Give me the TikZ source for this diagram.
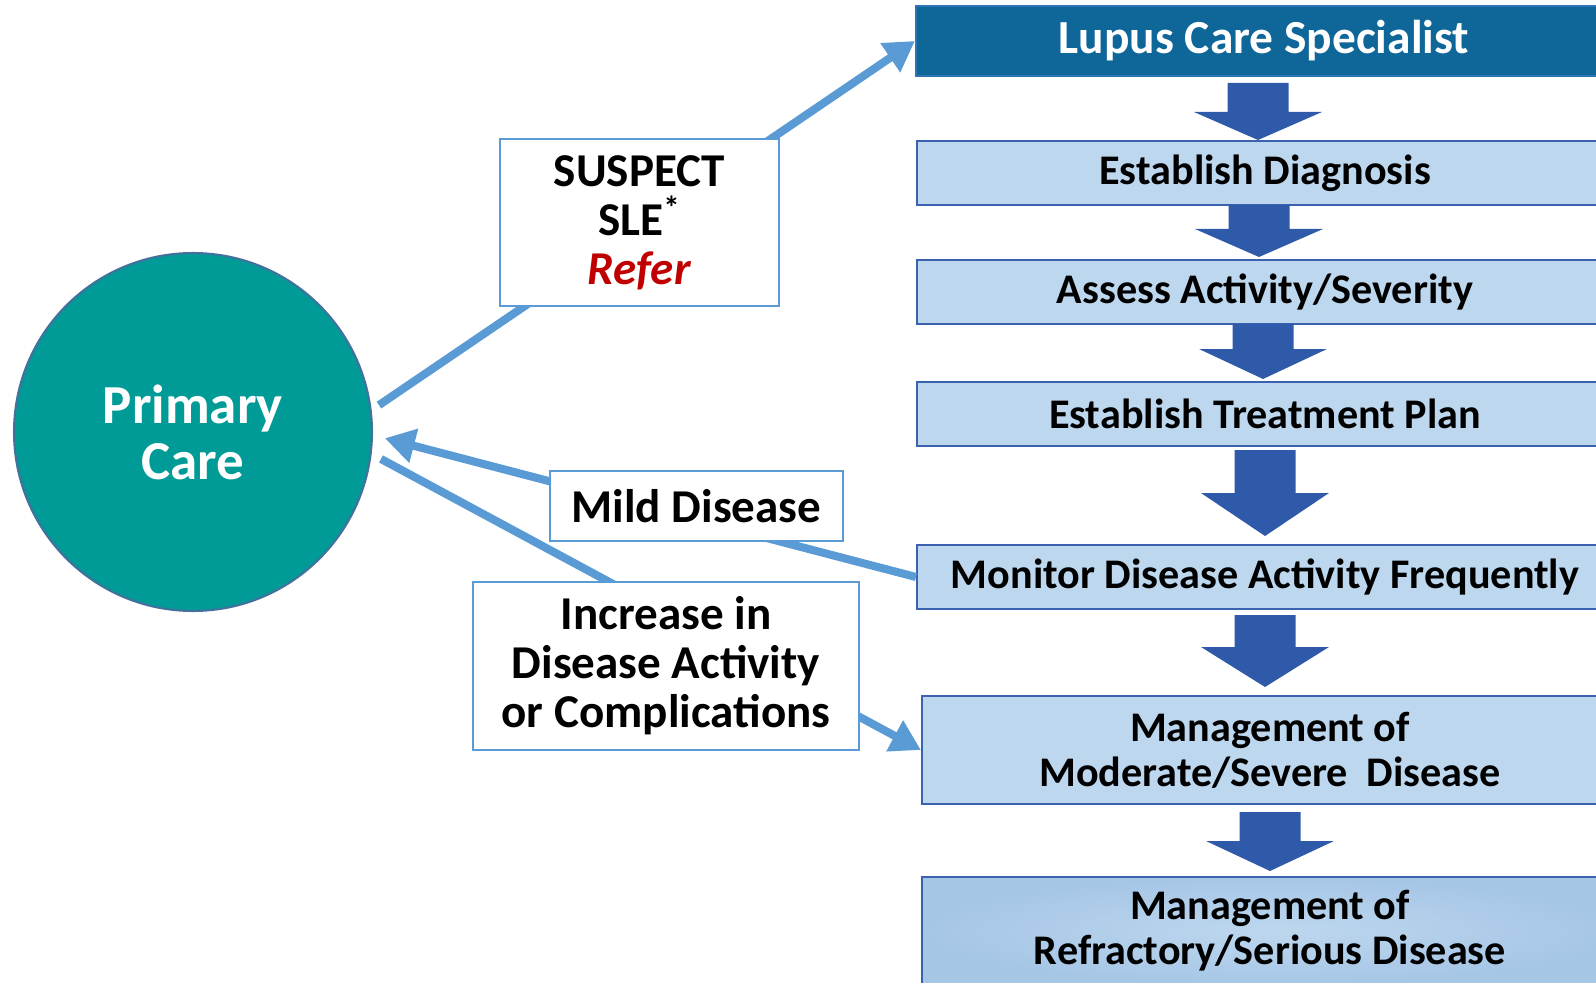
\documentclass[tikz,border=0pt]{standalone}
\usepackage{fontspec}
\setmainfont{Carlito}
\usepackage{xcolor}
\usetikzlibrary{positioning,arrows.meta,calc}

\definecolor{lupusblue}{HTML}{0E6699}
\definecolor{lupusline}{HTML}{2E75B6}
\definecolor{stepfill}{HTML}{BDD7EE}
\definecolor{stepedge}{HTML}{A6C6E6}
\definecolor{stepline}{HTML}{3A62AE}
\definecolor{downblue}{HTML}{2F59A9}
\definecolor{linkblue}{HTML}{5B9BD5}
\definecolor{careteal}{HTML}{009A97}
\definecolor{careline}{HTML}{41719C}
\definecolor{referred}{HTML}{C00000}

\tikzset{
  stepbox/.style={draw=stepline, line width=1.3pt, fill=stepfill, minimum width=13.92cm,
    minimum height=1.28cm, align=center, font=\fontsize{24}{25.5}\selectfont\bfseries},
  lupusbox/.style={stepbox, draw=lupusline, fill=lupusblue, text=white, minimum height=1.4cm,
    font=\fontsize{27}{28}\selectfont\bfseries},
  labelbox/.style={draw=linkblue, line width=1.1pt, fill=white, align=center,
    font=\fontsize{26.8}{27.9}\selectfont\bfseries},
  link/.style={draw=linkblue, line width=4.6pt, -{Triangle[length=17pt,width=19pt]}},
  pics/blockdown/.style args={#1/#2}{code={
    \fill[downblue] (-30.5,0) -- (30.5,0) -- (30.5,#1) -- (64,#1) -- (0,#2)
      -- (-64,#1) -- (-30.5,#1) -- cycle;}}
}

\begin{document}
\begin{tikzpicture}[x=0.02cm, y=-0.02cm]
    \clip (0,0) rectangle (1596,983);

    % Primary care
    \node[circle, draw=careline, line width=1.2pt, fill=careteal, minimum size=7.16cm,
      text=white, align=center, font=\fontsize{31.3}{31.9}\selectfont\bfseries]
      (pcare) at (193,432) {Primary\\Care};

    % Specialist column
    \node[lupusbox] (lupus) at (1264,41) {Lupus Care Specialist};
    \node[stepbox] (diag) at (1265,173) {Establish Diagnosis};
    \node[stepbox] (assess) at (1265,292) {Assess Activity/Severity};
    \node[stepbox] (plan) at (1265,414) {Establish Treatment Plan};
    \node[stepbox] (monitor) at (1265,577) {Monitor Disease Activity Frequently};
    \node[stepbox, minimum height=2.16cm] (moderate) at (1270,750)
      {Management of\\Moderate/Severe~~Disease};
    \node[stepbox, minimum height=2.16cm, shading=radial, inner color=stepfill,
      outer color=stepedge] (refract) at (1270,931)
      {Management of\\Refractory/Serious Disease};

    % Block arrows between the steps
    \pic at (1258,83) {blockdown=29/57};
    \pic at (1259,205) {blockdown=24/52};
    \pic at (1263,324) {blockdown=25/55};
    \pic at (1265,450) {blockdown=43/86};
    \pic at (1265,615) {blockdown=32/72};
    \pic at (1270,812) {blockdown=29/59};

    % Links between primary care and specialist
    \draw[link, shorten <=5pt] (pcare.7) -- (lupus.west);
    \draw[link, shorten >=7pt] (monitor.west) -- (pcare.-1);
    \draw[link, shorten <=6pt] (pcare.-7) -- (moderate.west);

    % Labels on the links
    \node[labelbox, minimum width=5.58cm, minimum height=3.34cm] (suspect) at (639.5,222.5)
      {SUSPECT\\SLE\textsuperscript{*}\\\textcolor{referred}{\textit{Refer}}};
    \node[labelbox, minimum width=5.86cm, minimum height=1.4cm] (mild) at (696.5,506)
      {Mild Disease};
    \node[labelbox, minimum width=7.72cm, minimum height=3.36cm] (increase) at (666,666)
      {Increase in\\Disease Activity\\or Complications};
\end{tikzpicture}
\end{document}
